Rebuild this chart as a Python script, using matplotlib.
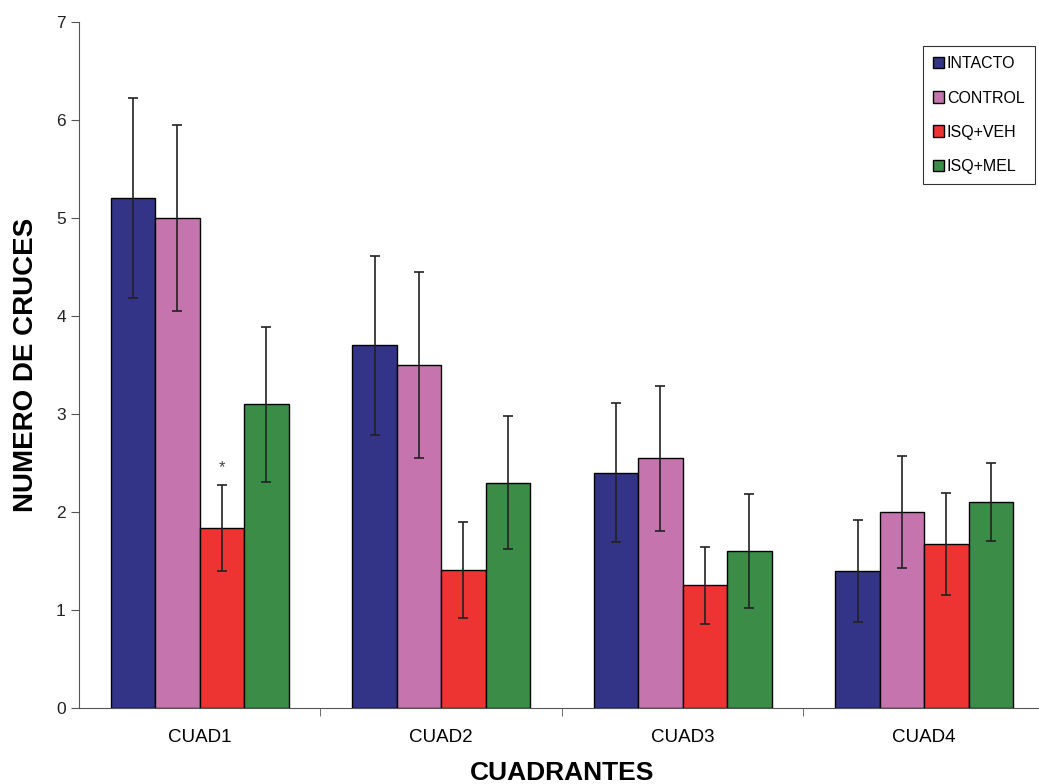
import numpy as np
import matplotlib.pyplot as plt

plt.rcParams['font.family'] = ['Liberation Sans', 'DejaVu Sans']

# datos
cuadrantes = ['CUAD1', 'CUAD2', 'CUAD3', 'CUAD4']
grupos = ['INTACTO', 'CONTROL', 'ISQ+VEH', 'ISQ+MEL']
intacto = [5.20, 3.70, 2.40, 1.40]
control = [5.00, 3.50, 2.55, 2.00]
isq_veh = [1.84, 1.41, 1.25, 1.67]
isq_mel = [3.10, 2.30, 1.60, 2.10]
err_intacto = [1.02, 0.91, 0.71, 0.52]
err_control = [0.95, 0.95, 0.74, 0.57]
err_veh = [0.44, 0.49, 0.39, 0.52]
err_mel = [0.79, 0.68, 0.58, 0.40]

colores = ['#333388', '#c674ae', '#ee3333', '#3a8c46']
valores = [intacto, control, isq_veh, isq_mel]
errores = [err_intacto, err_control, err_veh, err_mel]

fig = plt.figure(figsize=(10.39, 7.84), dpi=100)
ax = fig.add_axes([0.076, 0.097, 0.9297, 0.875])

x = np.arange(len(cuadrantes))
w = 0.184
for i in range(4):
    pos = x + (i - 1.5) * w
    ax.bar(pos, valores[i], w, color=colores[i], edgecolor='black', linewidth=1.0,
           label=grupos[i], zorder=2)
    ax.errorbar(pos, valores[i], yerr=errores[i], fmt='none', ecolor='#222222',
                elinewidth=1.2, capsize=3.5, capthick=1.2, zorder=3)

# asterisco sobre ISQ+VEH en CUAD1
ax.text(x[0] + 0.5 * w, isq_veh[0] + err_veh[0] + 0.1, '*', ha='center', va='bottom',
        fontsize=12, color='#444444')

ax.set_xlim(-0.5, 3.5)
ax.set_ylim(0, 7)
ax.set_yticks(range(8))
ax.set_xticks(x)
ax.set_xticklabels(cuadrantes)
ax.set_xticks(np.arange(0.5, 4, 1), minor=True)
ax.tick_params(axis='x', which='major', length=0, labelsize=13.5, pad=15)
ax.tick_params(axis='x', which='minor', length=6, direction='out', color='#555555')
ax.tick_params(axis='y', length=6, direction='out', labelsize=12.5, color='#555555',
               labelcolor='#222222')
for s in ['top', 'right']:
    ax.spines[s].set_visible(False)
for s in ['left', 'bottom']:
    ax.spines[s].set_color('#555555')

ax.set_ylabel('NUMERO DE CRUCES', fontsize=20, fontweight='bold', labelpad=12)
ax.set_xlabel('CUADRANTES', fontsize=19, fontweight='bold', labelpad=11)

leg = ax.legend(loc='upper right', bbox_to_anchor=(0.9897, 0.965), borderaxespad=0,
                fontsize=11.5, frameon=True, fancybox=False, edgecolor='black',
                handlelength=0.7, handleheight=0.7, handletextpad=0.15,
                labelspacing=1.2, borderpad=0.65)
leg.get_frame().set_linewidth(0.8)

fig.savefig('out.png', dpi=100)
